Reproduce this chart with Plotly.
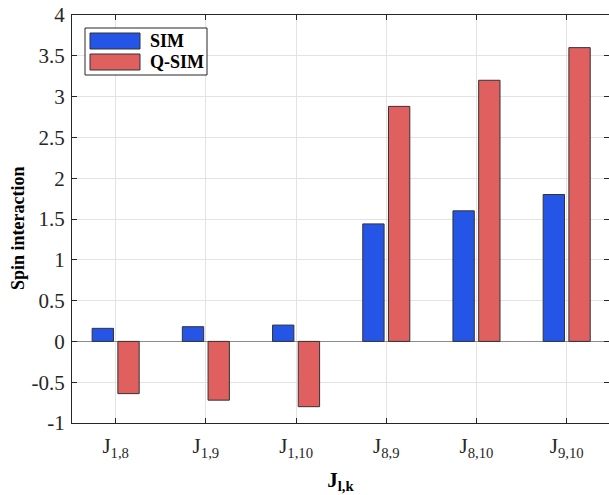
import plotly.graph_objects as go

categories = ["J<sub>1,8</sub>", "J<sub>1,9</sub>", "J<sub>1,10</sub>",
              "J<sub>8,9</sub>", "J<sub>8,10</sub>", "J<sub>9,10</sub>"]
sim_values = [0.16, 0.18, 0.20, 1.44, 1.60, 1.80]
qsim_values = [-0.64, -0.72, -0.80, 2.88, 3.20, 3.60]
series_names = ["SIM", "Q-SIM"]
series_colors = ["#2455e6", "#e06060"]
y_ticks = [-1, -0.5, 0, 0.5, 1, 1.5, 2, 2.5, 3, 3.5, 4]
y_tick_labels = ["-1", "-0.5", "0", "0.5", "1", "1.5", "2", "2.5", "3", "3.5", "4"]

W, H = 609, 495
L, R, T, B = 72, 0, 15, 72
pw, ph = W - L - R, H - T - B

FONT = "Liberation Serif"

fig = go.Figure()
xs = list(range(len(categories)))
for name, vals, col in zip(series_names, [sim_values, qsim_values], series_colors):
    fig.add_trace(go.Bar(x=xs, y=vals, name=name,
                         marker=dict(color=col, line=dict(color="#333333", width=1)),
                         showlegend=False))

def px2paper(x, y):
    return (x - L) / pw, (H - B - y) / ph

# custom legend (MATLAB style wide swatches)
x0, y0 = px2paper(85, 28)
x1, y1 = px2paper(207, 75)
fig.add_shape(type="rect", xref="paper", yref="paper", x0=x0, y0=y0, x1=x1, y1=y1,
              line=dict(color="#262626", width=1), fillcolor="white", layer="above")
for i, (name, col) in enumerate(zip(series_names, series_colors)):
    top = 33 + i * 21
    a0, b0 = px2paper(90, top)
    a1, b1 = px2paper(140, top + 16)
    fig.add_shape(type="rect", xref="paper", yref="paper", x0=a0, y0=b0, x1=a1, y1=b1,
                  line=dict(color="#333333", width=1), fillcolor=col, layer="above")
    tx, ty = px2paper(148, top + 8)
    fig.add_annotation(xref="paper", yref="paper", x=tx, y=ty, text="<b>%s</b>" % name,
                       showarrow=False, xanchor="left", yanchor="middle",
                       font=dict(family=FONT, size=18, color="black"))

# y-axis title placed like MATLAB
ax, ay = px2paper(18, 228)
fig.add_annotation(xref="paper", yref="paper", x=ax, y=ay, text="<b>Spin interaction</b>",
                   showarrow=False, textangle=-90, xanchor="center", yanchor="middle",
                   font=dict(family=FONT, size=18, color="black"))

fig.update_layout(
    width=W, height=H,
    margin=dict(l=L, r=R, t=T, b=B, autoexpand=False),
    paper_bgcolor="white", plot_bgcolor="white",
    barmode="group", bargap=0.43, bargroupgap=0.17,
    font=dict(family=FONT, size=18, color="#262626"),
)
fig.update_xaxes(
    range=[-0.484, 5.469], tickvals=xs, ticktext=categories,
    showgrid=True, gridcolor="#e3e3e3", gridwidth=1,
    showline=True, linecolor="#262626", linewidth=1, mirror="ticks",
    ticks="inside", ticklen=5, tickcolor="#262626",
    tickfont=dict(family=FONT, size=21, color="#262626"),
    ticklabelstandoff=4,
    title=dict(text="<b>J<sub>l,k</sub></b>", font=dict(family=FONT, size=21, color="black"),
               standoff=12),
    zeroline=False, automargin=False,
)
fig.update_yaxes(
    range=[-1, 4], tickvals=y_ticks, ticktext=y_tick_labels,
    showgrid=True, gridcolor="#e3e3e3", gridwidth=1,
    showline=True, linecolor="#262626", linewidth=1, mirror="ticks",
    ticks="inside", ticklen=5, tickcolor="#262626",
    tickfont=dict(family=FONT, size=21, color="#262626"),
    ticklabelstandoff=2,
    zeroline=True, zerolinecolor="#8c8c8c", zerolinewidth=1,
    automargin=False,
)

fig.write_html("out.html", config={"displayModeBar": False},
               post_script="document.body.style.margin='0';")
